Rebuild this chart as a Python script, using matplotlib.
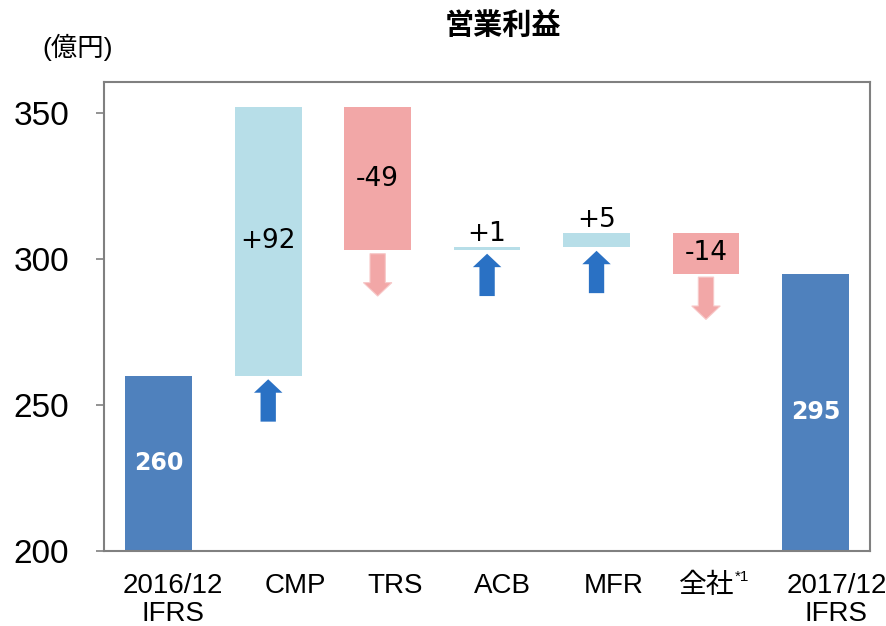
import matplotlib
matplotlib.use("Agg")
import matplotlib.pyplot as plt
import matplotlib.transforms as mtransforms
import numpy as np

# 営業利益の増減（億円）
categories = ["2016/12\nIFRS", "CMP", "TRS", "ACB", "MFR", "全社", "2017/12\nIFRS"]
start_value = 260
changes = [92, -49, 1, 5, -14]
end_value = 295
yticks = [200, 250, 300, 350]

# horizontal nudge of each category label (px)
label_shift = [14, 27, 17, 15, 17, 1, 21]

col_total = "#4F81BD"
col_up = "#B7DEE8"
col_down = "#F2A7A7"
col_arrow_up = "#2A71C4"

plt.rcParams['font.family'] = ['Liberation Sans', 'Noto Sans CJK JP', 'DejaVu Sans']

fig = plt.figure(figsize=(8.87, 6.26), dpi=100)
ax = fig.add_axes([0.1173, 0.1198, 0.8637, 0.7492])

x = np.arange(len(categories))
bw = 0.61
base = 200

# start / end totals
ax.bar(x[0], start_value - base, bottom=base, width=bw, color=col_total)
ax.bar(x[-1], end_value - base, bottom=base, width=bw, color=col_total)
ax.text(x[0], (start_value + base) / 2, str(start_value), ha="center", va="center",
        color="white", fontsize=17, fontweight="bold", family="DejaVu Sans")
ax.text(x[-1], (end_value + base) / 2, str(end_value), ha="center", va="center",
        color="white", fontsize=17, fontweight="bold", family="DejaVu Sans")

# floating step bars with arrows underneath
level = start_value
for i, d in enumerate(changes, start=1):
    lo, hi = min(level, level + d), max(level, level + d)
    col = col_up if d > 0 else col_down
    ax.bar(x[i], hi - lo, bottom=lo, width=bw, color=col)
    lab = f"{d:+d}"
    if hi - lo >= 10:
        ax.text(x[i], (lo + hi) / 2, lab, ha="center", va="center",
                fontsize=19, family="DejaVu Sans")
    else:
        ax.annotate(lab, (x[i], hi), xytext=(0, 0), textcoords="offset points",
                    ha="center", va="bottom", fontsize=19, family="DejaVu Sans")
    top = lo - 1.2
    alen = 14.5
    if d > 0:
        ax.arrow(x[i], top - alen, 0, alen, width=0.14, head_width=0.26,
                 head_length=4.6, length_includes_head=True,
                 color=col_arrow_up, lw=0)
    else:
        ax.arrow(x[i], top, 0, -alen, width=0.14, head_width=0.26,
                 head_length=4.6, length_includes_head=True,
                 fc=col_down, ec="#F7C9C9", lw=0.8)
    level += d

ax.set_xlim(-0.5, len(categories) - 0.5)
ax.set_ylim(200, 360.6)
ax.set_yticks(yticks)
ax.set_yticklabels([str(v) for v in yticks], fontsize=24)
ax.set_xticks(x)
ax.set_xticklabels(categories, fontsize=20, linespacing=1.1)
ax.tick_params(axis="x", length=0, pad=16)
ax.tick_params(axis="y", length=6, width=1.2, color="#808080", pad=19)
for lbl, dx in zip(ax.get_xticklabels(), label_shift):
    lbl.set_transform(lbl.get_transform() +
                      mtransforms.ScaledTranslation(dx / 100, 0, fig.dpi_scale_trans))
for s in ax.spines.values():
    s.set_color("#808080")
    s.set_linewidth(1.5)

# footnote mark on 全社
ax.annotate("*1", xy=(x[5], 0), xycoords=("data", "axes fraction"),
            xytext=(21, -19), textcoords="offset points",
            ha="left", va="center", fontsize=11)

fig.text(0.567, 0.96, "営業利益", ha="center", va="center",
         fontsize=21, fontweight="bold", family="Noto Sans CJK JP")
fig.text(0.087, 0.925, "(億円)", ha="center", va="center",
         fontsize=19, family=["Liberation Sans", "Noto Sans CJK JP"])

fig.savefig("out.png", dpi=100)
